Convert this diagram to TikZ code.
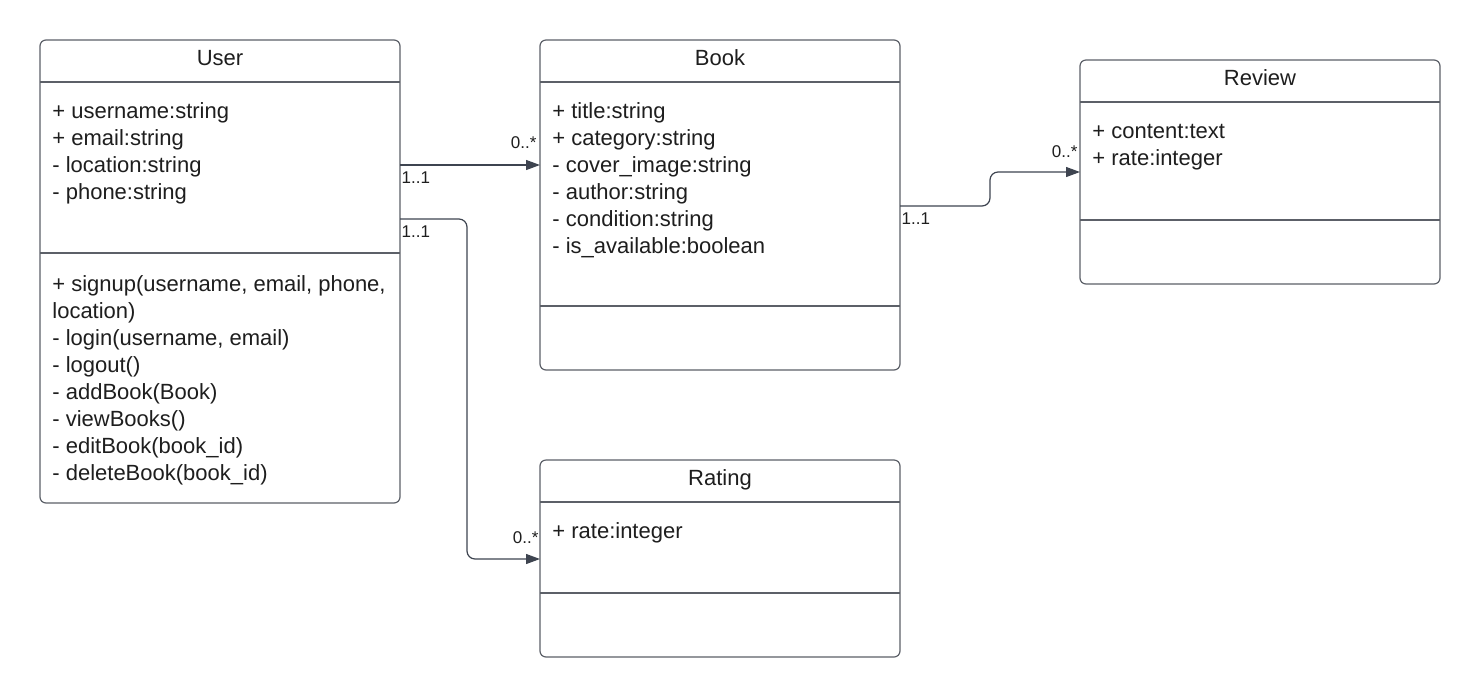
\documentclass[tikz,border=0pt]{standalone}
\usepackage{fontspec}
\setmainfont{Liberation Sans}
\usetikzlibrary{arrows.meta,positioning,calc}
\definecolor{UmlLine}{HTML}{5C6068}
\definecolor{UmlArrow}{HTML}{3E4450}
\definecolor{UmlText}{HTML}{1E1E1E}
\tikzset{
  classbox/.style={rectangle,rounded corners=3pt,draw=UmlLine,line width=0.6pt,fill=white,minimum width=180pt,inner sep=0pt,outer sep=0pt},
  classname/.style={font=\fontsize{11}{13.5}\selectfont,text=UmlText,anchor=base,inner sep=0pt},
  members/.style={font=\fontsize{11}{13.5}\selectfont,text=UmlText,align=left,anchor=north west,inner sep=0pt},
  divider/.style={draw=UmlLine,line width=0.6pt},
  assoc/.style={-{Triangle[length=7pt,width=5pt]},draw=UmlArrow,line width=0.6pt,rounded corners=4pt},
  mult/.style={font=\fontsize{8.5}{10}\selectfont,text=UmlText,inner sep=0pt},
}

\begin{document}
\begin{tikzpicture}[x=0.5pt, y=-0.5pt]
  \useasboundingbox (0,0) rectangle (1480,698);

  % ── Classes ──
  \node[classbox, minimum height=231.5pt, anchor=north west] (user) at (40,40) {};
  \node[classbox, minimum height=165pt, right=70pt of user.north east, anchor=north west] (book) {};
  \node[classbox, minimum height=112pt, anchor=north west] (review) at (1080,60) {};
  \node[classbox, minimum height=98.5pt, below=45pt of book.south west, anchor=north west] (rating) {};

  % ── Names ──
  \node[classname] (usertitle) at ($(user.north)+(0,25)$) {User};
  \node[classname] (booktitle) at ($(book.north)+(0,25)$) {Book};
  \node[classname] (reviewtitle) at ($(review.north)+(0,25)$) {Review};
  \node[classname] (ratingtitle) at ($(rating.north)+(0,25)$) {Rating};

  % ── Compartments ──
  \draw[divider] ($(user.north west)+(0,42)$) -- ++(360,0);
  \draw[divider] ($(user.north west)+(0,213)$) -- ++(360,0);
  \draw[divider] ($(book.north west)+(0,42)$) -- ++(360,0);
  \draw[divider] ($(book.north west)+(0,266)$) -- ++(360,0);
  \draw[divider] ($(review.north west)+(0,42)$) -- ++(360,0);
  \draw[divider] ($(review.north west)+(0,160)$) -- ++(360,0);
  \draw[divider] ($(rating.north west)+(0,42)$) -- ++(360,0);
  \draw[divider] ($(rating.north west)+(0,133)$) -- ++(360,0);

  % ── Members ──
  \node[members] (userattr) at ($(user.north west)+(12,59.1)$)
    {\strut+ username:string\\+ email:string\\- location:string\\- phone:string};
  \node[members] (userops) at ($(user.north west)+(12,232.1)$)
    {\strut+ signup(username, email, phone,\\location)\\- login(username, email)\\- logout()\\- addBook(Book)\\- viewBooks()\\- editBook(book\_id)\\- deleteBook(book\_id)};
  \node[members] (bookattr) at ($(book.north west)+(12,59.1)$)
    {\strut+ title:string\\+ category:string\\- cover\_image:string\\- author:string\\- condition:string\\- is\_available:boolean};
  \node[members] (reviewattr) at ($(review.north west)+(12,59.1)$)
    {\strut+ content:text\\+ rate:integer};
  \node[members] (ratingattr) at ($(rating.north west)+(12,59.1)$)
    {\strut+ rate:integer};

  % ── Associations ──
  \coordinate (userbook) at ($(user.north east)+(0,125)$);
  \coordinate (bookin) at ($(book.north west)+(0,125)$);
  \coordinate (bookreview) at ($(book.north east)+(0,166)$);
  \coordinate (reviewin) at ($(review.north west)+(0,112)$);
  \coordinate (userrating) at ($(user.north east)+(0,179)$);
  \coordinate (ratingin) at ($(rating.north west)+(0,99)$);

  \draw[assoc] (userbook) node[mult, anchor=base west, xshift=0.5pt, yshift=-9pt] {1..1}
    -- (bookin) node[mult, pos=1, anchor=base east, xshift=-1.5pt, yshift=8.5pt] {0..*};
  \draw[assoc] (bookreview) node[mult, anchor=base west, xshift=0.5pt, yshift=-9pt] {1..1}
    -- ++(90,0) |- (reviewin) node[mult, pos=1, anchor=base east, xshift=-1pt, yshift=7.5pt] {0..*};
  \draw[assoc] (userrating) node[mult, anchor=base west, xshift=0.5pt, yshift=-9pt] {1..1}
    -- ++(67,0) |- (ratingin) node[mult, pos=1, anchor=base east, xshift=-0.5pt, yshift=8pt] {0..*};
\end{tikzpicture}
\end{document}
